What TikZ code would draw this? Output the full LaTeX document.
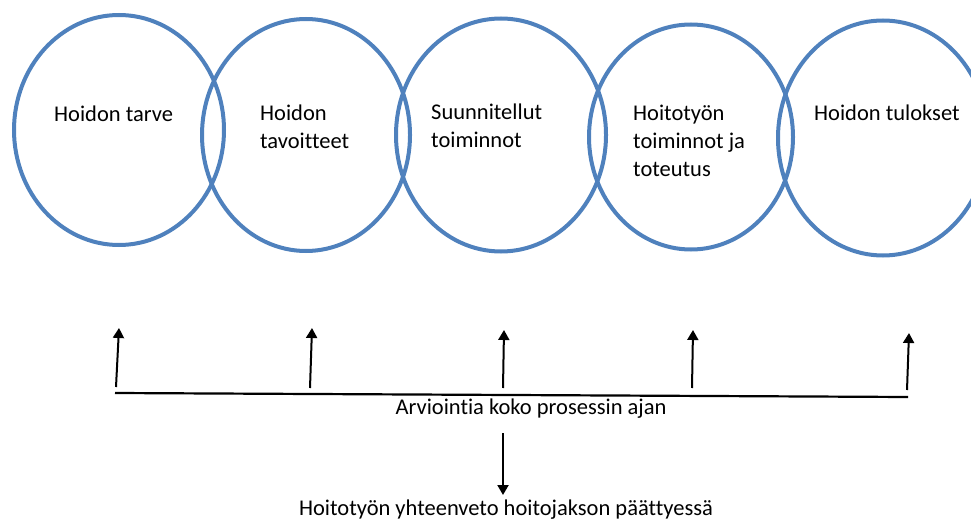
\documentclass[tikz,border=0pt]{standalone}
\usepackage{fontspec}
\setmainfont{Carlito}[Ligatures=NoCommon]
\usetikzlibrary{arrows.meta,shapes.geometric}
\definecolor{ringblue}{RGB}{79,129,189}
\tikzset{
    ring/.style={ellipse,draw=ringblue,line width=4pt,inner sep=0pt},
    stagetext/.style={anchor=base west,align=left,inner sep=0pt,font=\fontsize{22.5}{28}\selectfont},
    evaltext/.style={anchor=base,inner sep=0pt,font=\fontsize{22.5}{28}\selectfont},
    evalline/.style={line width=2.2pt},
    evalvec/.style={-{Triangle[length=10pt,width=11pt]},line width=2pt}
}

\begin{document}
\begin{tikzpicture}[x=1pt,y=-1pt]
    \useasboundingbox (0,0) rectangle (971,521);
    % Stages
    \node[ring,minimum width=210pt,minimum height=230pt] (c1) at (119,130) {};
    \node[ring,minimum width=208pt,minimum height=232pt] (c2) at (306,135) {};
    \node[ring,minimum width=210pt,minimum height=233pt] (c3) at (501,135) {};
    \node[ring,minimum width=204pt,minimum height=225pt] (c4) at (691,137) {};
    \node[ring,minimum width=210pt,minimum height=235pt] (c5) at (883,138) {};
    % Stage texts (base = last line)
    \node[stagetext] (t1) at (54,122) {Hoidon tarve};
    \node[stagetext] (t2) at (260,149) {Hoidon\\tavoitteet};
    \node[stagetext] (t3) at (431,148) {Suunnitellut\\toiminnot};
    \node[stagetext] (t4) at (633,177) {Hoitotyön\\toiminnot ja\\toteutus};
    \node[stagetext] (t5) at (814,121) {Hoidon tulokset};
    % Evaluation line
    \coordinate (lineL) at (115,393);
    \coordinate (lineR) at (908,397);
    \draw[evalline] (lineL) -- (lineR);
    % Arrows up
    \coordinate (a1) at (116,387);
    \coordinate (b1) at (119,328);
    \coordinate (a2) at (310,388);
    \coordinate (b2) at (312,328);
    \coordinate (a3) at (503,388);
    \coordinate (b3) at (504,330);
    \coordinate (a4) at (692,388);
    \coordinate (b4) at (693,330);
    \coordinate (a5) at (907,390);
    \coordinate (b5) at (909,333);
    \draw[evalvec] (a1) -- (b1);
    \draw[evalvec] (a2) -- (b2);
    \draw[evalvec] (a3) -- (b3);
    \draw[evalvec] (a4) -- (b4);
    \draw[evalvec] (a5) -- (b5);
    % Evaluation text
    \node[evaltext] (arv) at (531,414) {Arviointia koko prosessin ajan};
    % Summary
    \coordinate (d0) at (503,433);
    \coordinate (d1) at (503,495);
    \draw[evalvec] (d0) -- (d1);
    \node[evaltext] (yht) at (506,515.5) {Hoitotyön yhteenveto hoitojakson päättyessä};
\end{tikzpicture}
\end{document}
